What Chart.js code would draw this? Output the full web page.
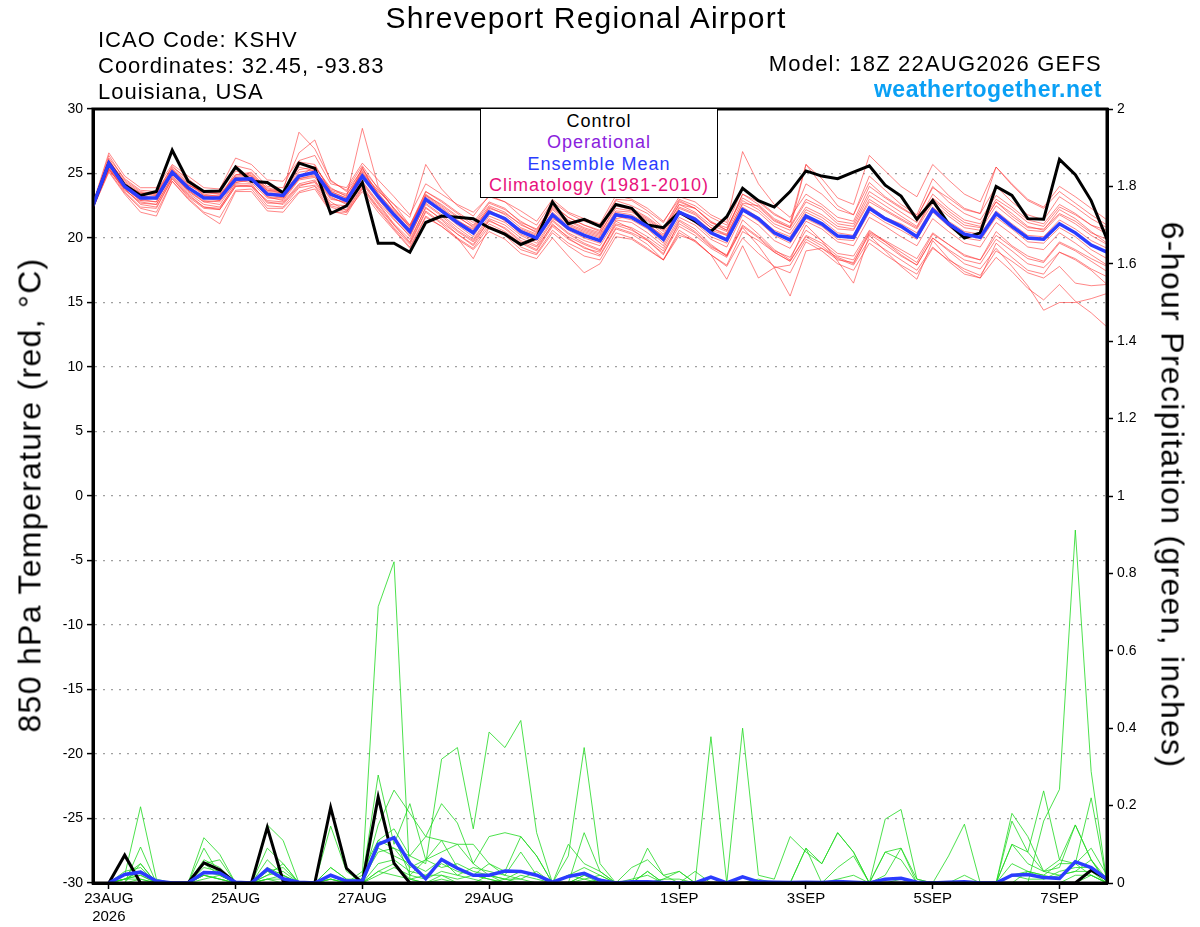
<!DOCTYPE html>
<html>
<head>
<meta charset="utf-8">
<title>Shreveport Regional Airport - GEFS plume</title>
<script src="https://cdn.jsdelivr.net/npm/chart.js@4.4.1/dist/chart.umd.min.js"></script>
<style>
html, body { margin: 0; padding: 0; background: #fff; }
#wrap { position: relative; width: 1200px; height: 927px; font-family: "Liberation Sans", Arial, sans-serif; }
#wrap canvas { position: absolute; left: 0; top: 0; }
.txt { position: absolute; white-space: nowrap; color: #000; letter-spacing: 1px; z-index: 2; }
.mid { transform: translate(-50%, -50%); }
.left { transform: translateY(-50%); }
.right { transform: translate(-100%, -50%); }
#legendBox { position: absolute; left: 480px; top: 108px; width: 236px; height: 86px; border: 1.5px solid #000; background: #fff; z-index: 2;
  text-align: center; font-size: 18px; line-height: 21.3px; letter-spacing: 1px; padding-top: 2px; }
</style>
</head>
<body>
<div id="wrap">
  <canvas id="plume"></canvas>
  <div class="txt mid" style="left:586px; top:18px; font-size:30px; letter-spacing:1.2px;">Shreveport Regional Airport</div>
  <div class="txt left" style="left:98px; top:40px; font-size:22px;">ICAO Code: KSHV</div>
  <div class="txt left" style="left:98px; top:66px; font-size:22px;">Coordinates: 32.45, -93.83</div>
  <div class="txt left" style="left:98px; top:92px; font-size:22px;">Louisiana, USA</div>
  <div class="txt right" style="left:1102px; top:64px; font-size:22px; letter-spacing:1.2px;">Model: 18Z 22AUG2026 GEFS</div>
  <div class="txt right" style="left:1102px; top:89px; font-size:23px; font-weight:bold; color:#0aa0f5; letter-spacing:0.5px;">weathertogether.net</div>
  <div id="legendBox">
    <div style="color:#000;">Control</div>
    <div style="color:#8a22dd;">Operational</div>
    <div style="color:#2b3cff;">Ensemble Mean</div>
    <div style="color:#e8127c;">Climatology (1981-2010)</div>
  </div>
  <div class="txt" style="left:30px; top:495px; font-size:32px; letter-spacing:1.3px; transform: translate(-50%, -50%) rotate(-90deg);">850 hPa Temperature (red, °C)</div>
  <div class="txt" style="left:1172px; top:495px; font-size:32px; letter-spacing:1.3px; transform: translate(-50%, -50%) rotate(90deg);">6-hour Precipitation (green, inches)</div>
</div>
<script>
// 6-hourly steps from 18Z 22AUG2026 (index 0) to 18Z 07SEP2026 (index 64)
var tickIdx = [1, 9, 17, 25, 37, 45, 53, 61];
var tickLabels = ['23AUG', '25AUG', '27AUG', '29AUG', '1SEP', '3SEP', '5SEP', '7SEP'];
var yearLabel = '2026';

// 850 hPa temperature (C)
var tempControl = [22.5,25.8,24.1,23.3,23.6,26.8,24.4,23.6,23.65,25.5,24.4,24.3,23.5,25.8,25.4,21.9,22.5,24.3,19.6,19.6,18.9,21.2,21.7,21.6,21.5,20.8,20.3,19.5,20.0,22.8,21.1,21.45,20.9,22.6,22.3,21.0,20.8,22.0,21.3,20.5,21.65,23.85,22.9,22.4,23.6,25.2,24.8,24.6,25.1,25.6,24.1,23.25,21.45,22.9,21.1,20.0,20.4,24.0,23.3,21.5,21.45,26.1,24.9,22.9,19.9];
var tempMean = [22.5,25.8,24.0,23.1,23.1,25.1,23.9,23.1,23.1,24.55,24.6,23.4,23.3,24.8,25.1,23.4,22.9,24.8,23.2,21.8,20.5,23.0,22.1,21.2,20.4,22.0,21.5,20.5,20.0,21.8,20.75,20.2,19.8,21.8,21.6,20.9,19.9,22.0,21.45,20.4,19.85,22.2,21.5,20.4,19.85,21.7,21.1,20.15,20.05,22.3,21.5,20.9,20.1,22.2,21.1,20.3,20.05,21.9,20.9,20.0,19.9,21.1,20.4,19.45,18.9];
var tMem01 = [22.6,26.4,24.5,23.6,23.4,25.6,24.4,23.3,23.0,25.2,24.8,23.9,23.6,28.2,26.9,24.5,23.6,25.3,23.9,22.6,21.0,23.6,22.8,21.9,21.0,22.7,22.2,21.3,20.6,22.6,21.6,21.0,20.5,22.9,22.5,21.9,20.8,22.9,22.3,21.3,20.6,23.4,22.6,21.5,20.9,23.0,22.4,21.3,21.1,23.6,22.8,22.0,21.2,23.4,22.3,21.4,21.1,23.0,22.2,21.2,20.9,22.4,21.8,21.0,20.6];
var tMem02 = [22.4,25.4,23.6,22.4,22.3,24.6,23.3,22.4,22.2,24.0,24.1,22.8,22.6,24.0,24.4,22.8,22.1,24.0,22.4,21.0,19.6,22.1,21.2,20.3,19.4,21.1,20.5,19.6,19.0,20.9,19.9,19.3,18.7,20.8,20.4,19.8,18.8,20.9,20.2,19.2,18.5,20.9,20.0,18.9,18.2,20.1,19.4,18.4,17.9,19.9,19.1,18.3,17.5,19.3,18.2,17.2,16.9,18.5,17.4,16.1,15.2,16.4,15.1,14.2,13.1];
var tMem03 = [22.5,25.9,24.2,23.3,23.0,25.3,24.1,23.5,23.4,24.9,25.0,23.7,23.5,25.3,25.5,23.9,23.2,28.5,24.0,22.2,20.9,23.3,22.6,21.7,20.8,22.3,21.9,21.1,20.4,22.2,21.1,20.6,20.2,22.1,22.0,21.3,20.3,22.4,21.9,20.8,20.3,22.6,22.0,20.9,20.3,22.2,21.6,20.7,20.6,22.8,22.1,21.4,20.7,22.7,21.7,20.8,20.6,22.5,21.5,20.6,20.5,21.8,21.1,20.2,19.5];
var tMem04 = [22.7,26.1,24.2,23.0,22.8,25.0,23.6,22.8,22.9,24.5,24.3,23.1,23.0,24.6,24.9,23.2,22.6,24.6,23.6,22.6,21.6,25.7,23.8,22.5,21.7,23.3,22.8,21.7,21.0,22.8,21.9,21.3,20.9,23.0,22.9,22.1,21.2,23.2,22.8,21.8,21.2,26.7,24.2,22.6,21.6,23.4,22.6,21.6,21.3,24.0,23.1,22.3,21.6,24.0,22.8,21.9,21.4,23.3,22.4,21.4,21.1,22.6,21.9,21.0,20.3];
var tMem05 = [22.3,25.1,23.4,22.0,21.7,24.4,23.0,21.9,21.1,23.6,23.6,22.1,22.0,23.5,23.8,22.0,22.0,23.6,22.0,20.6,19.2,21.6,20.9,19.9,19.1,20.5,19.9,18.8,18.4,20.0,18.6,17.3,18.0,20.1,19.9,19.1,18.3,20.4,19.7,18.7,17.9,20.5,19.8,18.9,18.2,20.2,19.6,18.6,18.3,20.5,19.8,19.1,18.4,20.4,19.5,18.7,18.3,20.2,19.3,18.4,18.1,19.6,19.0,18.2,17.4];
var tMem06 = [22.6,26.0,24.3,23.4,23.5,25.3,24.2,23.3,23.3,24.8,24.9,23.6,23.5,25.9,25.7,23.6,23.1,25.2,23.5,22.0,20.7,23.3,22.4,21.4,20.6,22.4,21.8,20.8,20.3,22.3,21.3,20.7,20.3,22.5,22.2,21.5,20.6,22.6,22.3,21.2,20.6,23.4,22.8,21.8,21.2,25.7,24.6,23.1,22.6,26.4,25.2,24.0,23.2,25.7,24.5,23.4,22.8,25.5,24.2,23.0,22.4,24.0,23.2,22.3,21.4];
var tMem07 = [22.5,25.6,23.9,22.9,23.2,24.9,23.7,22.8,22.6,24.3,24.5,23.2,22.9,24.5,24.7,23.0,22.8,24.4,22.8,21.4,20.2,22.6,21.7,20.6,19.8,21.5,21.0,20.0,19.4,21.3,20.3,19.6,19.1,21.1,20.8,20.1,19.2,21.4,20.7,19.5,18.6,20.8,19.4,17.7,15.5,19.0,19.2,18.5,18.0,20.4,19.7,18.9,18.1,20.3,19.5,18.6,18.3,20.5,19.4,18.6,18.2,19.7,19.1,18.4,17.8];
var tMem08 = [22.4,25.3,23.8,22.7,22.6,24.8,23.5,22.6,22.4,24.1,24.0,22.9,22.8,24.2,24.5,22.6,22.5,24.3,22.7,21.1,19.9,22.3,21.5,20.5,19.7,21.3,20.8,19.8,19.3,21.0,20.1,19.5,19.0,21.0,20.6,19.9,19.0,21.1,20.4,19.3,18.7,21.0,20.1,19.0,18.5,20.6,19.8,18.8,18.6,20.6,19.7,18.7,17.9,20.0,19.0,18.0,17.6,19.2,17.8,16.3,14.4,15.0,15.0,15.3,15.7];
var tMem09 = [22.6,26.2,24.6,23.7,23.6,25.5,24.6,23.6,23.5,25.6,25.3,24.0,23.9,26.6,27.6,24.4,23.7,25.6,23.8,22.3,21.0,23.4,22.5,21.6,20.9,22.5,22.0,21.0,20.5,22.4,21.4,20.8,20.4,22.3,22.1,21.4,20.5,22.6,22.0,21.0,20.5,22.9,22.2,21.1,20.6,22.4,21.8,20.9,20.7,23.0,22.2,21.5,20.8,23.0,21.9,21.0,20.8,22.8,21.7,20.8,20.7,21.9,21.3,20.4,19.9];
var tMem10 = [22.4,25.5,23.7,22.8,22.6,24.7,23.4,22.4,22.3,24.2,24.2,22.7,22.7,24.1,24.3,22.5,22.2,24.2,22.6,21.0,19.7,22.4,21.4,20.3,19.5,21.4,20.7,19.7,19.1,21.1,20.0,19.2,18.9,21.3,20.7,19.8,18.7,21.3,20.5,19.4,18.6,21.4,20.3,19.1,18.3,21.0,19.8,18.2,16.5,20.2,19.0,17.8,16.8,19.8,18.4,17.4,16.9,19.6,18.5,17.5,17.2,18.9,18.3,17.5,16.4];
var tMem11 = [22.7,26.6,24.8,23.9,23.9,25.7,24.8,23.9,23.8,26.2,25.7,24.5,24.4,26.0,26.4,24.2,23.9,25.8,24.5,23.2,21.8,24.2,23.4,22.6,22.0,23.2,22.8,22.1,21.3,23.0,22.0,21.5,21.1,23.3,23.0,22.3,21.3,23.0,22.5,21.6,21.0,23.8,22.9,21.9,21.2,24.2,23.4,22.2,21.8,24.8,23.7,22.6,21.8,24.6,23.3,22.3,21.9,24.0,22.8,21.8,21.4,23.2,22.4,21.5,20.8];
var tMem12 = [22.3,25.2,23.5,22.3,22.0,24.4,23.1,22.0,21.6,23.7,23.8,22.3,22.3,23.6,24.0,22.1,21.8,23.8,22.2,20.7,19.3,21.7,20.9,20.0,18.4,20.8,20.2,19.1,18.7,20.4,19.4,18.6,18.3,20.4,20.0,19.2,18.3,20.2,19.8,18.7,17.8,20.0,18.8,17.8,17.3,19.7,19.0,18.0,17.5,19.6,18.7,17.9,17.2,19.2,18.3,17.6,17.1,19.0,18.2,17.3,16.9,17.8,16.5,16.3,16.4];
var tMem13 = [22.5,25.7,24.1,23.2,23.1,25.2,23.9,23.1,22.9,24.7,24.4,23.4,23.1,24.9,25.0,23.3,22.9,24.8,23.1,21.7,20.3,23.1,22.0,21.0,20.1,22.0,21.4,20.3,19.8,21.6,20.6,20.0,19.6,21.7,21.4,20.7,19.6,21.9,21.2,20.1,19.6,22.1,21.3,20.2,19.6,21.5,20.9,19.9,19.8,22.0,21.2,20.6,19.9,22.0,20.9,20.0,19.8,21.6,20.7,19.7,19.6,20.8,20.1,19.1,18.4];
var tMem14 = [22.6,25.9,24.0,23.2,23.3,25.2,24.0,23.2,23.2,24.7,24.8,23.5,23.4,25.1,25.3,23.6,23.1,25.1,23.3,21.9,20.6,23.2,22.3,21.3,20.4,22.1,21.6,20.6,20.1,22.0,21.0,20.5,20.1,22.0,21.8,21.1,20.1,22.3,21.8,20.8,20.2,22.7,22.5,21.4,20.8,25.7,24.1,22.5,21.8,24.3,23.2,22.4,21.6,23.9,23.1,22.2,21.9,25.5,24.1,22.9,22.3,23.6,22.7,21.8,21.0];
var tMem15 = [22.4,25.3,23.8,22.6,22.4,24.6,23.2,22.3,22.2,24.0,24.0,22.5,22.4,23.9,24.1,22.4,22.0,23.9,22.3,20.8,19.5,22.0,21.1,20.0,19.2,20.9,20.4,19.3,18.8,20.6,19.6,19.0,18.6,20.7,20.3,19.5,18.3,20.6,19.8,18.7,16.8,19.4,16.9,17.7,17.9,19.9,19.2,18.3,18.1,20.3,19.5,18.6,17.9,20.0,19.1,18.3,18.0,19.9,19.0,18.0,17.7,18.9,18.4,17.6,17.0];
var tMem16 = [22.5,26.0,24.4,23.5,23.3,25.4,24.3,23.4,23.2,24.9,25.1,23.8,23.6,25.5,25.2,23.8,23.4,25.0,23.7,22.3,20.8,23.6,22.9,22.0,21.2,22.8,22.3,21.2,20.7,22.5,21.6,21.0,20.6,22.6,22.3,21.6,20.7,22.8,22.3,21.2,20.8,23.1,22.4,21.3,20.8,22.8,22.2,21.1,20.9,23.3,22.5,21.7,20.9,23.1,22.1,21.2,20.9,22.8,21.9,20.9,20.6,22.2,21.5,20.5,19.6];
var tMem17 = [22.6,25.6,24.1,23.5,23.4,24.9,24.1,23.6,23.4,24.4,24.7,23.7,23.6,24.7,25.6,23.7,23.3,25.4,23.4,22.1,20.9,22.8,22.2,21.3,20.7,22.2,21.3,20.7,20.2,21.5,20.9,20.4,20.0,21.5,21.7,21.0,20.2,22.0,21.6,20.6,20.2,22.4,21.6,20.6,20.1,22.0,21.4,20.4,20.2,22.5,21.6,21.1,20.4,22.4,21.3,20.5,20.3,22.1,21.1,20.2,20.1,21.4,20.7,19.8,19.2];
var tMem18 = [22.4,25.4,23.9,22.9,22.8,25.0,23.7,22.9,22.8,24.3,24.6,23.2,23.1,24.6,24.8,23.1,22.7,25.5,23.0,21.5,20.1,22.7,21.8,20.8,19.9,21.7,21.2,20.2,19.6,21.4,20.4,19.8,19.4,21.4,21.2,20.4,19.4,21.6,21.0,19.9,19.3,21.8,21.0,19.8,19.2,21.3,20.7,19.7,19.4,21.6,20.9,20.1,19.4,21.5,20.5,19.6,19.3,21.2,20.3,19.3,19.1,20.4,19.6,18.7,17.9];

// 6-hour precipitation (inches); no value for the analysis step
var precControl = [null,0,0.072,0,0, 0,0,0.052,0.034,0, 0,0.144,0.005,0,0, 0.195,0.038,0,0.222,0.051, 0,0,0,0,0, 0,0,0,0,0, 0,0,0,0,0, 0,0,0,0,0, 0,0,0,0,0, 0,0,0,0,0, 0,0,0,0,0, 0,0,0,0,0, 0,0,0,0.033,0.01];
var precMean = [null,0,0.022,0.028,0.005, 0,0,0.027,0.026,0.002, 0,0.036,0.011,0.002,0, 0.02,0.005,0.005,0.1,0.117, 0.051,0.011,0.061,0.038,0.02, 0.02,0.031,0.03,0.02,0.002, 0.017,0.025,0.007,0,0.003, 0.003,0.001,0,0,0.015, 0,0.016,0.003,0.002,0.001, 0.002,0.001,0.004,0.002,0, 0.01,0.012,0.002,0,0.002, 0.003,0,0,0.02,0.022, 0.014,0.012,0.055,0.04,0.01];
var pMem01 = [null,0,0.01,0.03,0, 0,0,0.02,0.01,0, 0,0.03,0.01,0,0, 0,0,0.02,0.714,0.83, 0.01,0,0.02,0,0, 0.02,0,0,0,0, 0,0.01,0,0,0, 0,0,0,0,0, 0,0,0,0,0, 0,0,0,0,0, 0,0,0,0,0, 0,0,0,0,0.03, 0.02,0.01,0.05,0.02,0];
var pMem02 = [null,0,0.02,0.197,0.01, 0,0,0.05,0.02,0, 0,0.06,0.02,0,0, 0.04,0.01,0.01,0.279,0.1, 0.205,0.06,0.11,0.04,0.02, 0.05,0.03,0.12,0.07,0, 0,0.13,0.03,0,0.01, 0.02,0,0,0,0, 0,0,0,0,0, 0.09,0.05,0.13,0.08,0, 0.02,0.09,0,0,0, 0,0,0,0.1,0.05, 0.03,0.06,0.15,0.06,0];
var pMem03 = [null,0,0,0.05,0, 0,0,0.117,0.074,0, 0,0.15,0.11,0,0, 0.02,0,0.03,0.11,0.09, 0.07,0.05,0.32,0.35,0.14, 0.39,0.35,0.42,0.13,0, 0,0,0.01,0,0, 0,0,0,0,0, 0,0,0,0,0, 0,0,0,0,0, 0,0.01,0,0,0, 0,0,0,0,0, 0,0,0,0.02,0];
var pMem04 = [null,0,0.01,0.02,0, 0,0,0.04,0.03,0, 0,0.02,0.05,0,0, 0.147,0.03,0,0.15,0.24, 0.18,0.12,0.205,0.155,0.05, 0.12,0.13,0.12,0.07,0, 0.07,0.35,0.05,0,0, 0.09,0.02,0,0,0.378, 0,0,0,0,0, 0,0,0,0,0, 0,0,0,0,0.07, 0.152,0,0,0,0, 0,0,0,0,0];
var pMem05 = [null,0,0,0.093,0, 0,0,0.09,0.02,0, 0,0.09,0.05,0,0, 0.04,0.01,0,0.11,0.14, 0.07,0.12,0.11,0.1,0.1, 0.05,0.02,0.08,0.02,0, 0.1,0.05,0.03,0,0.04, 0.06,0.02,0.03,0,0, 0,0.4,0.02,0.01,0.12, 0.08,0.05,0.13,0.08,0, 0.08,0.06,0,0,0, 0,0,0,0.16,0.08, 0.238,0.06,0.05,0.22,0];
var pMem06 = [null,0,0.02,0.05,0, 0,0,0.06,0.04,0, 0,0.04,0.02,0,0, 0.02,0,0.01,0.08,0.09, 0.04,0.06,0.08,0.1,0.05, 0.02,0.01,0.03,0.02,0, 0,0.02,0,0,0, 0,0.01,0.03,0,0, 0,0,0,0,0, 0,0,0,0,0, 0,0,0,0,0, 0,0,0,0,0, 0.16,0.242,0.912,0.288,0];
var pMem07 = [null,0,0.01,0.02,0, 0,0,0.03,0.02,0, 0,0.02,0.03,0,0, 0.01,0,0,0.05,0.06, 0.03,0.02,0.05,0.03,0.02, 0.01,0,0.02,0.01,0, 0,0.02,0.01,0,0, 0,0,0,0,0, 0,0,0,0,0, 0,0,0.01,0.02,0, 0.165,0.19,0.01,0,0, 0,0,0,0.18,0.12, 0.03,0.02,0.03,0.06,0.01];
var pMem08 = [null,0,0.03,0.04,0, 0,0,0.05,0.06,0, 0,0.03,0.04,0,0, 0.02,0,0,0.1,0.12, 0.02,0.06,0.04,0.05,0.03, 0.02,0.01,0.01,0,0, 0.02,0.01,0.02,0,0, 0.03,0,0,0,0, 0,0,0,0,0, 0.09,0,0.04,0.07,0, 0.08,0.09,0.01,0,0, 0.02,0,0,0.1,0.08, 0.03,0.04,0.15,0.06,0];
var pMem09 = [null,0,0.02,0.03,0, 0,0,0.02,0.01,0, 0,0.01,0.02,0,0, 0.01,0,0,0.09,0.07, 0.05,0.03,0.06,0.02,0.04, 0.03,0.02,0.01,0.03,0, 0.02,0.04,0.02,0,0, 0,0.01,0.01,0,0, 0,0,0.01,0,0, 0,0,0,0,0, 0,0,0,0,0, 0,0,0,0.05,0.03, 0.02,0.05,0.05,0.09,0.02];
var pMem10 = [null,0,0.01,0.01,0, 0,0,0.02,0.01,0, 0,0.01,0.01,0,0, 0.01,0,0,0.03,0.05, 0.01,0.02,0.02,0.01,0.02, 0.01,0,0,0,0, 0,0,0,0,0, 0.03,0,0,0,0, 0,0,0,0,0, 0,0,0,0,0, 0,0,0,0,0, 0,0,0,0.02,0.03, 0.01,0.03,0.04,0.04,0.01];
var pMem11 = [null,0,0.01,0.03,0, 0,0,0.01,0.02,0, 0,0.01,0,0,0, 0.02,0,0,0.02,0.04, 0.02,0.01,0.03,0.02,0.01, 0,0.01,0,0,0, 0,0,0,0,0, 0,0,0,0.03,0, 0,0,0,0,0, 0,0,0,0,0, 0,0,0,0,0, 0,0,0,0,0, 0,0,0.02,0.02,0];
var pMem12 = [null,0,0,0.01,0, 0,0,0,0,0, 0,0,0,0,0, 0,0,0,0.03,0.02, 0.01,0,0.01,0,0, 0,0,0,0,0, 0,0,0,0,0, 0,0,0,0,0, 0,0,0,0,0, 0,0,0,0,0, 0,0,0,0,0, 0,0,0,0.02,0.01, 0.01,0.02,0.03,0.03,0];

var tempMembers = [tMem01, tMem02, tMem03, tMem04, tMem05, tMem06, tMem07, tMem08, tMem09,
    tMem10, tMem11, tMem12, tMem13, tMem14, tMem15, tMem16, tMem17, tMem18];
var precMembers = [pMem01, pMem02, pMem03, pMem04, pMem05, pMem06, pMem07, pMem08, pMem09,
    pMem10, pMem11, pMem12];

var PlumeChart = (function () {

    var toPoints = function (arr) {
        return arr.map(function (v, i) { return {x: i, y: v}; });
    };

    var line = function (arr, axis, color, width, order) {
        return {
            data: toPoints(arr),
            yAxisID: axis,
            borderColor: color,
            borderWidth: width,
            pointRadius: 0,
            fill: false,
            tension: 0,
            order: order
        };
    };

    // black frame round the plot, top edge included
    var framePlugin = {
        id: 'frame',
        afterDraw: function (chart) {
            var a = chart.chartArea;
            var c = chart.ctx;
            c.save();
            c.strokeStyle = '#000';
            c.lineWidth = 3;
            c.strokeRect(a.left, a.top, a.right - a.left, a.bottom - a.top);
            c.restore();
        }
    };

    var init = function () {
        Chart.defaults.font.family = '"Liberation Sans", Arial, sans-serif';
        Chart.defaults.color = '#000';

        var datasets = [];
        datasets.push(line(tempMean, 'yT', '#2b3cff', 3.5, 0));
        datasets.push(line(tempControl, 'yT', '#000000', 3, 1));
        datasets.push(line(precMean, 'yP', '#2b3cff', 3.5, 0));
        datasets.push(line(precControl, 'yP', '#000000', 3, 1));
        tempMembers.forEach(function (m) {
            datasets.push(line(m, 'yT', 'rgba(255,50,50,0.65)', 0.9, 5));
        });
        precMembers.forEach(function (m) {
            datasets.push(line(m, 'yP', 'rgba(35,218,35,0.9)', 0.9, 5));
        });

        new Chart(document.getElementById('plume'), {
            type: 'line',
            data: {datasets: datasets},
            options: {
                responsive: true,
                maintainAspectRatio: false,
                animation: false,
                layout: {padding: {top: 109, left: 0, right: 0, bottom: 0}},
                plugins: {legend: {display: false}, tooltip: {enabled: false}},
                scales: {
                    x: {
                        type: 'linear',
                        min: 0,
                        max: 64,
                        afterBuildTicks: function (s) {
                            s.ticks = tickIdx.map(function (v) { return {value: v}; });
                        },
                        afterFit: function (s) { s.height = 44; },
                        ticks: {
                            autoSkip: false,
                            maxRotation: 0,
                            padding: 1,
                            font: {size: 15},
                            callback: function (v) {
                                var k = tickIdx.indexOf(v);
                                if (k === 0) { return [tickLabels[0], yearLabel]; }
                                return tickLabels[k];
                            }
                        },
                        grid: {drawOnChartArea: false, tickLength: 6, tickColor: '#000', tickWidth: 1.5},
                        border: {color: '#000', width: 3}
                    },
                    yT: {
                        position: 'left',
                        min: -30,
                        max: 30,
                        afterFit: function (s) { s.width = 93; },
                        ticks: {stepSize: 5, padding: 4, font: {size: 14}},
                        grid: {
                            color: function (c) {
                                var v = c.tick ? c.tick.value : 0;
                                return (v === 30 || v === -30) ? 'rgba(0,0,0,0)' : '#a0a0a0';
                            },
                            lineWidth: 1.2,
                            tickLength: 6,
                            tickColor: '#000',
                            tickWidth: 1.5
                        },
                        border: {color: '#000', width: 3, dash: [2, 6]}
                    },
                    yP: {
                        position: 'right',
                        min: 0,
                        max: 2,
                        afterFit: function (s) { s.width = 93; },
                        ticks: {
                            stepSize: 0.2,
                            padding: 4,
                            font: {size: 14},
                            callback: function (v) { return String(Number(v.toFixed(1))); }
                        },
                        grid: {drawOnChartArea: false, tickLength: 6, tickColor: '#000', tickWidth: 1.5},
                        border: {color: '#000', width: 3}
                    }
                }
            },
            plugins: [framePlugin]
        });
    };

    init();
    return {};
})();
</script>
</body>
</html>
